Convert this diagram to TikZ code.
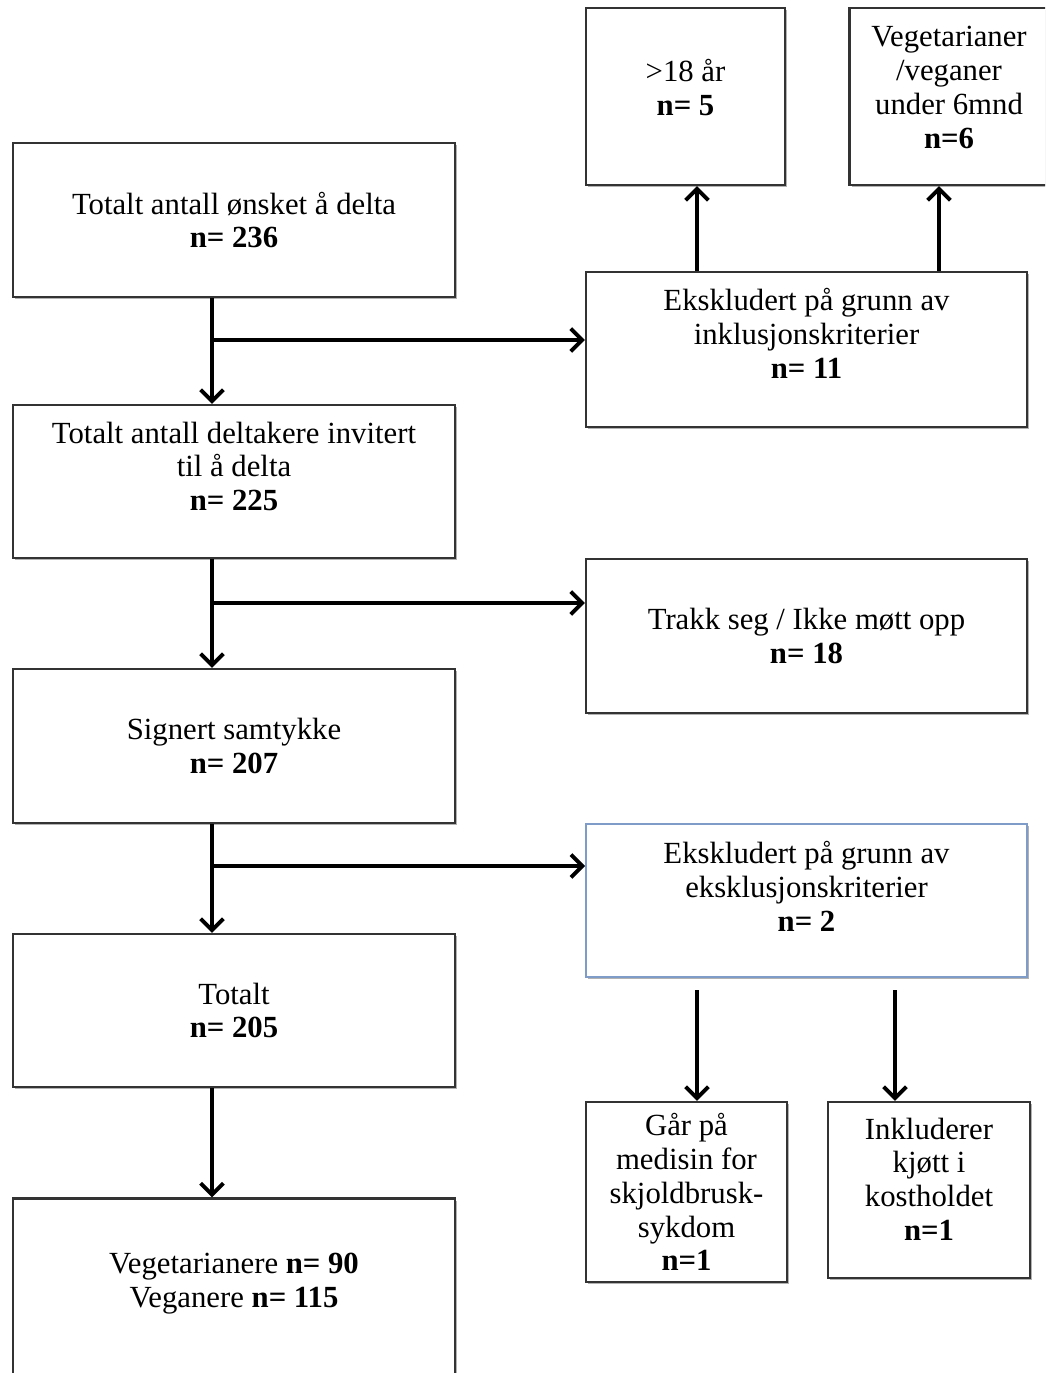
\documentclass[tikz,border=0pt]{standalone}
\usepackage{fontspec}
\setmainfont{Liberation Serif}
\usepackage{tikz}
\usetikzlibrary{calc}
\usetikzlibrary{arrows, arrows.meta, positioning, shadows}
\definecolor{boxgray}{HTML}{333333}
\definecolor{boxblue}{HTML}{7F9CC8}

\begin{document}
\begin{tikzpicture}[x=0.02cm, y=-0.02cm,
	box/.style={draw=boxgray, line width=1.3pt, fill=white, align=center, inner sep=2pt,
		drop shadow={shadow xshift=1.3pt, shadow yshift=-1.3pt, opacity=0.3, fill=black},
		font=\fontsize{17.5}{19.3}\selectfont},
	arrow/.style={-{Straight Barb[length=6.5pt,width=13pt]}, line width=2.2pt}]
	\useasboundingbox (0,0) rectangle (1045,1373);
	\clip (0,0) rectangle (1045,1373);
	
	% Main column
	\node (want) at (234,220) [box, minimum width=8.84cm, minimum height=3.08cm] {Totalt antall ønsket å delta\\ \textbf{n= 236}};
	\node (invited) at (234,481.5) [box, minimum width=8.84cm, minimum height=3.06cm] {Totalt antall deltakere invitert\\ til å delta\\ \textbf{n= 225}\\[-2pt]\mbox{}};
	\node (signed) at (234,746) [box, minimum width=8.84cm, minimum height=3.08cm] {Signert samtykke\\ \textbf{n= 207}};
	\node (total) at (234,1010.5) [box, minimum width=8.84cm, minimum height=3.06cm] {Totalt\\ \textbf{n= 205}};
	\node (groups) at (234,1293) [box, minimum width=8.84cm, minimum height=3.78cm] {Vegetarianere \textbf{n= 90}\\ Veganere \textbf{n= 115}\\[-5pt]\mbox{}};
	
	% Exclusions
	\node (age) at (685.5,96.5) [box, minimum width=3.98cm, minimum height=3.54cm] {>18 år\\ \textbf{n= 5}\\[-9pt]\mbox{}};
	\node (diet) at (949,96.5) [box, minimum width=3.98cm, minimum height=3.54cm] {Vegetarianer\\ /veganer\\ under 6mnd\\ \textbf{n=6}\\[-9pt]\mbox{}};
	\node (inkl) at (806.5,349.5) [box, minimum width=8.82cm, minimum height=3.1cm] {Ekskludert på grunn av\\ inklusjonskriterier\\ \textbf{n= 11}\\[-1pt]\mbox{}};
	\node (drop) at (806.5,636) [box, minimum width=8.82cm, minimum height=3.08cm] {Trakk seg / Ikke møtt opp\\ \textbf{n= 18}};
	\node (ekskl) at (806.5,900.5) [box, draw=boxblue, line width=1pt, minimum width=8.82cm, minimum height=3.06cm] {Ekskludert på grunn av\\ eksklusjonskriterier\\ \textbf{n= 2}\\[-3pt]\mbox{}};
	\node (thyroid) at (686.5,1192) [box, minimum width=4.02cm, minimum height=3.6cm] {Går på\\ medisin for\\ skjoldbrusk-\\ sykdom\\ \textbf{n=1}};
	\node (meat) at (929,1190) [box, minimum width=4.04cm, minimum height=3.52cm] {Inkluderer\\ kjøtt i\\ kostholdet\\ \textbf{n=1}\\[-7pt]\mbox{}};
	
	% Trunk arrows
	\coordinate (trunk) at (212,0);
	\draw[arrow] (want.south -| trunk) -- (invited.north -| trunk);
	\draw[arrow] (invited.south -| trunk) -- (signed.north -| trunk);
	\draw[arrow] (signed.south -| trunk) -- (total.north -| trunk);
	\draw[arrow] (total.south -| trunk) -- (groups.north -| trunk);
	
	% Branch arrows
	\coordinate (split1) at (212,340);
	\coordinate (split2) at (212,603);
	\coordinate (split3) at (212,866);
	\draw[arrow] (split1) -- (split1 -| inkl.west);
	\draw[arrow] (split2) -- (split2 -| drop.west);
	\draw[arrow] (split3) -- (split3 -| ekskl.west);
	
	% Reasons
	\coordinate (upA) at (697,0);
	\coordinate (upB) at (939,0);
	\draw[arrow] (inkl.north -| upA) -- (age.south -| upA);
	\draw[arrow] (inkl.north -| upB) -- (diet.south -| upB);
	\coordinate (downA) at (697,990);
	\coordinate (downB) at (895,990);
	\draw[arrow] (downA) -- (thyroid.north -| downA);
	\draw[arrow] (downB) -- (meat.north -| downB);
\end{tikzpicture}
\end{document}
